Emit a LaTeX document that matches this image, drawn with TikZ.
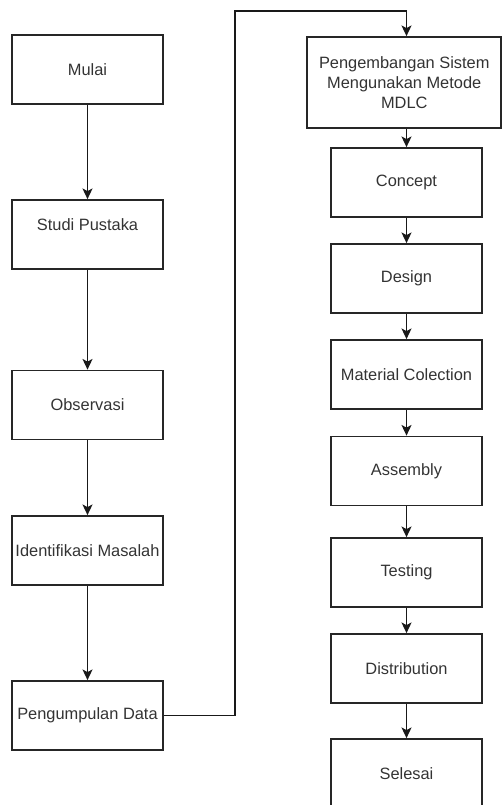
\documentclass[tikz,border=0pt]{standalone}
\usepackage{fontspec}
\setmainfont{Liberation Sans}
\usetikzlibrary{arrows.meta,positioning}
\definecolor{txtGray}{rgb}{0.2 0.2 0.2}

\tikzset{
  stepbox/.style={draw=black!85, line width=1.3pt, rectangle, minimum width=113.25pt,
    minimum height=51.75pt, inner sep=1pt, align=center, text=txtGray,
    font=\fontsize{12.3}{15}\selectfont},
  flow/.style={draw=black!90, line width=1.3pt, -{Stealth[length=8pt,width=7.5pt,inset=2pt]}}
}

\begin{document}
\begin{tikzpicture}[x=0.75pt,y=-0.75pt]

  \clip (0,0) rectangle (502,805);
  \useasboundingbox (0,0) rectangle (502,805);

  % the left column
  \def\leftSteps{
    Mulai/mulai/69.5,
    {\raisebox{7.5pt}[\height][\depth]{Studi Pustaka}}/studi/234.5,
    Observasi/observasi/405,
    Identifikasi Masalah/identifikasi/550.5,
    Pengumpulan Data/pengumpulan/715.5
  }
  \foreach \txt/\nm/\yy in \leftSteps
    \node[stepbox] (\nm) at (87.5,\yy) {\txt};

  % the MDLC column
  \node[stepbox, minimum width=145.5pt, minimum height=68.25pt] (mdlc) at (404.25,82.5)
    {Pengembangan Sistem\\Mengunakan Metode\\MDLC};

  \def\rightSteps{
    Concept/concept/182.5,
    Design/design/278.5,
    Material Colection/material/374.5,
    Assembly/assembly/471,
    Testing/testing/572.5,
    Distribution/distribution/668.5,
    Selesai/selesai/773.5
  }
  \foreach \txt/\nm/\yy in \rightSteps
    \node[stepbox] (\nm) at (406.5,\yy) {\txt};

  % arrows inside each column
  \foreach \a/\b in {mulai/studi, studi/observasi, observasi/identifikasi,
      identifikasi/pengumpulan, concept/design, design/material, material/assembly,
      assembly/testing, testing/distribution, distribution/selesai}
    \draw[flow] (\a.south) -- (\a.south |- \b.north);
  \draw[flow] (mdlc.south -| concept.north) -- (concept.north);

  % jump from the left column to the right one
  \coordinate (jumpUp) at (235,11);
  \draw[flow] (pengumpulan.east) -| (jumpUp) -| (concept.north |- mdlc.north);

\end{tikzpicture}
\end{document}
